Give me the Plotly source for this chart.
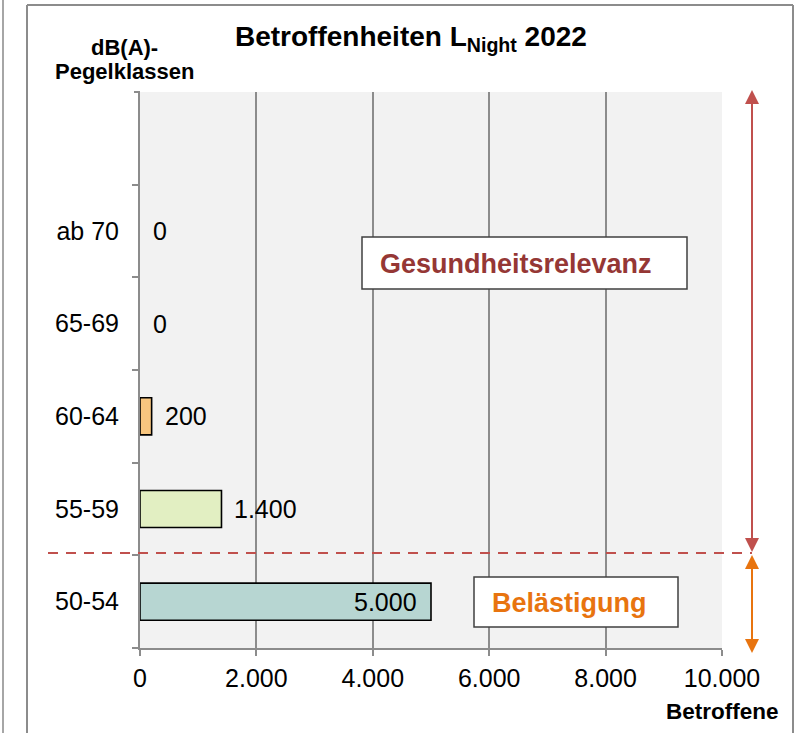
import plotly.graph_objects as go

# ---------------- data ----------------
categories = ["50-54", "55-59", "60-64", "65-69", "ab 70"]
values = [5000, 1400, 200, 0, 0]
bar_colors = ["#B7D6D2", "#E2EFC2", "#F8C67F", "#F8C67F", "#F8C67F"]
x_ticks = [0, 2000, 4000, 6000, 8000, 10000]
x_ticktext = ["0", "2.000", "4.000", "6.000", "8.000", "10.000"]

title_text = "Betroffenheiten L<sub>Night</sub> 2022"
y_title_lines = ["dB(A)-", "Pegelklassen"]
x_title = "Betroffene"
zone_upper = "Gesundheitsrelevanz"
zone_lower = "Belästigung"

W, H = 803, 733
L, R, T, B = 140, 722, 92, 648  # plot area in pixels


def px(x):
    return (x - L) / (R - L)


def py(y):
    return (B - y) / (B - T)


def de(v):
    return f"{v:,}".replace(",", ".")


FONT = "Liberation Sans, Arial, sans-serif"
GRID = "#8C8C8C"
RED = "#C0504D"
ORANGE = "#E8740F"

fig = go.Figure()
fig.add_trace(go.Bar(
    y=categories, x=values, orientation="h", width=0.4,
    marker=dict(color=bar_colors,
                line=dict(color="#000000", width=[1.6 if v > 0 else 0 for v in values])),
    hoverinfo="skip",
))

annotations = []
for c, v in zip(categories, values):
    if v >= 3000:
        annotations.append(dict(x=v, y=c, xref="x", yref="y", text=de(v), showarrow=False,
                                xanchor="right", xshift=-12, font=dict(size=25, color="#000")))
    else:
        annotations.append(dict(x=v, y=c, xref="x", yref="y", text=de(v), showarrow=False,
                                xanchor="left", xshift=11, font=dict(size=25, color="#000")))

# titles
annotations.append(dict(x=px(411), y=py(39), xref="paper", yref="paper", text="<b>" + title_text + "</b>",
                        showarrow=False, xanchor="center", yanchor="middle", font=dict(size=28, color="#000")))
for txt, yy in zip(y_title_lines, [47, 71]):
    annotations.append(dict(x=px(124), y=py(yy), xref="paper", yref="paper", text="<b>" + txt + "</b>",
                            showarrow=False, xanchor="center", yanchor="middle", font=dict(size=22, color="#000")))
annotations.append(dict(x=px(722), y=py(711), xref="paper", yref="paper", text="<b>" + x_title + "</b>",
                        showarrow=False, xanchor="center", yanchor="middle", font=dict(size=22.5, color="#000")))
# zone labels
annotations.append(dict(x=px(378), y=py(264), xref="paper", yref="paper", text="<b>" + zone_upper + "</b>",
                        showarrow=False, xanchor="left", yanchor="middle", font=dict(size=27, color="#953735")))
annotations.append(dict(x=px(490), y=py(603), xref="paper", yref="paper", text="<b>" + zone_lower + "</b>",
                        showarrow=False, xanchor="left", yanchor="middle", font=dict(size=27, color=ORANGE)))


def tri(xc, ytip, up, color, hw=7, hl=14):
    yb = ytip + hl if up else ytip - hl
    path = (f"M {px(xc)},{py(ytip)} L {px(xc - hw)},{py(yb)} "
            f"L {px(xc + hw)},{py(yb)} Z")
    return dict(type="path", xref="paper", yref="paper", path=path,
                fillcolor=color, line=dict(color=color, width=0))


def vline(xc, y0, y1, color, width=2):
    return dict(type="line", xref="paper", yref="paper", x0=px(xc), x1=px(xc), y0=py(y0), y1=py(y1),
                line=dict(color=color, width=width))


shapes = [
    # outer frame
    vline(3, 0, 733, "#A6A6A6"),
    vline(27, 5, 733, "#8C8C8C"),
    dict(type="line", xref="paper", yref="paper", x0=px(27), x1=px(793), y0=py(5), y1=py(5),
         line=dict(color="#8C8C8C", width=2)),
    vline(793, 5, 733, "#8C8C8C"),
    # top tick of the category axis (empty slot above "ab 70")
    dict(type="line", xref="paper", yref="paper", x0=px(134), x1=px(140), y0=1, y1=1,
         line=dict(color=GRID, width=2)),
    # dashed separator
    dict(type="line", xref="paper", yref="paper", x0=px(48), x1=px(752), y0=py(553), y1=py(553),
         line=dict(color=RED, width=2, dash="10px,8px")),
    # label boxes
    dict(type="rect", xref="paper", yref="paper", x0=px(362), x1=px(687), y0=py(289), y1=py(237),
         fillcolor="#FFFFFF", line=dict(color="#404040", width=1.5)),
    dict(type="rect", xref="paper", yref="paper", x0=px(474), x1=px(678), y0=py(627), y1=py(577),
         fillcolor="#FFFFFF", line=dict(color="#404040", width=1.5)),
    # double arrows
    vline(752, 100, 542, RED),
    tri(752, 90, True, RED),
    tri(752, 552, False, RED),
    vline(752, 565, 643, ORANGE),
    tri(752, 555, True, ORANGE),
    tri(752, 653, False, ORANGE),
]

fig.update_layout(
    width=W, height=H,
    margin=dict(l=L, r=W - R, t=T, b=H - B, autoexpand=False),
    paper_bgcolor="#FFFFFF", plot_bgcolor="#F2F2F2",
    font=dict(family=FONT, size=25, color="#000"),
    showlegend=False,
    annotations=annotations,
    shapes=shapes,
    xaxis=dict(range=[0, 10000], tickvals=x_ticks, ticktext=x_ticktext,
               showgrid=True, gridcolor=GRID, gridwidth=2,
               showline=True, linecolor=GRID, linewidth=2,
               ticks="outside", ticklen=6, tickwidth=2, tickcolor=GRID,
               ticklabelstandoff=1, zeroline=False, fixedrange=True,
               tickfont=dict(size=25, color="#000")),
    yaxis=dict(type="category", categoryorder="array", categoryarray=categories,
               range=[-0.5, 5.5], showgrid=False,
               showline=True, linecolor=GRID, linewidth=2,
               ticks="outside", tickson="boundaries", ticklen=6, tickwidth=2, tickcolor=GRID,
               ticklabelstandoff=14, fixedrange=True,
               tickfont=dict(size=25, color="#000")),
)

fig.write_html("out.html", config={"displayModeBar": False},
               post_script="document.body.style.margin='0';document.body.style.overflow='hidden';")
